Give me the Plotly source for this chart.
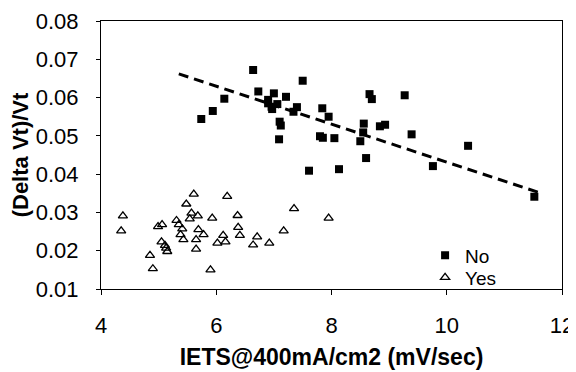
import plotly.graph_objects as go

# "No" series (filled squares)
no_x = [5.74, 5.94, 6.14, 6.64, 6.73, 6.90, 6.90, 6.96, 6.97, 7.00, 7.06, 7.21, 7.34, 7.40, 7.50,
        7.10, 7.12, 7.09, 7.61, 7.80, 7.85, 7.84, 7.95, 8.05, 8.13, 8.50, 8.55, 8.56, 8.60, 8.66,
        8.70, 8.84, 8.93, 9.27, 9.39, 9.76, 10.37, 11.52]
no_y = [0.0544, 0.0565, 0.0597, 0.0672, 0.0616, 0.0594, 0.0585, 0.0576, 0.0570, 0.0611, 0.0583,
        0.0602, 0.0563, 0.0575, 0.0644, 0.0537, 0.0527, 0.0491, 0.0409, 0.0499, 0.0495, 0.0572,
        0.0550, 0.0494, 0.0413, 0.0486, 0.0509, 0.0532, 0.0442, 0.0609, 0.0596, 0.0525, 0.0529,
        0.0606, 0.0504, 0.0421, 0.0474, 0.0341]

# "Yes" series (open triangles)
yes_x = [4.38, 4.35, 4.85, 4.90, 4.99, 5.06, 5.05, 5.11, 5.13, 5.15, 5.31, 5.35, 5.41, 5.38,
         5.43, 5.48, 5.61, 5.57, 5.54, 5.68, 5.69, 5.65, 5.65, 5.78, 5.93, 5.90, 6.02, 6.12,
         6.16, 6.19, 6.37, 6.38, 6.41, 6.64, 6.71, 6.92, 7.17, 7.35, 7.95]
yes_y = [0.0291, 0.0252, 0.0188, 0.0153, 0.0263, 0.0268, 0.0223, 0.0214, 0.0207, 0.0198, 0.0279,
         0.0268, 0.0257, 0.0242, 0.0229, 0.0322, 0.0348, 0.0298, 0.0283, 0.0291, 0.0255, 0.0229,
         0.0204, 0.0242, 0.0285, 0.0150, 0.0220, 0.0240, 0.0223, 0.0342, 0.0292, 0.0261, 0.0240,
         0.0215, 0.0236, 0.0220, 0.0252, 0.0310, 0.0285]

# Linear trend line for "No"
trend_x = [5.35, 11.6]
trend_y = [0.0662, 0.0352]

x_ticks = [4, 6, 8, 10, 12]
y_ticks = [0.01, 0.02, 0.03, 0.04, 0.05, 0.06, 0.07, 0.08]

FONT = "Liberation Sans, Arial, sans-serif"

fig = go.Figure()
fig.add_trace(go.Scatter(x=trend_x, y=trend_y, mode="lines", showlegend=False,
                         line=dict(color="black", width=3, dash="10px,6px")))
fig.add_trace(go.Scatter(x=no_x, y=no_y, mode="markers", name="No", legend="legend",
                         marker=dict(symbol="square", size=8, color="black")))
fig.add_trace(go.Scatter(x=yes_x, y=yes_y, mode="markers", name="Yes", legend="legend2",
                         marker=dict(symbol="triangle-up-open", size=8, color="black",
                                     line=dict(width=1.3, color="black"))))

leg_common = dict(xanchor="left", yanchor="middle", bgcolor="rgba(255,255,255,0)",
                  borderwidth=0, font=dict(size=19))

# page body adds an 8px offset, so the figure is sized to fit inside the window
fig.update_layout(
    width=568, height=364,
    margin=dict(l=93, r=14, t=13, b=83, autoexpand=False),
    paper_bgcolor="white", plot_bgcolor="white",
    font=dict(family=FONT, size=22, color="black"),
    legend=dict(x=0.703, y=0.125, **leg_common),
    legend2=dict(x=0.703, y=0.043, **leg_common),
)
fig.update_xaxes(range=[4, 12], tickvals=x_ticks, ticks="outside", ticklen=5,
                 tickcolor="black", showgrid=False, zeroline=False, automargin=False,
                 showline=True, linecolor="black", linewidth=1.2, mirror=True,
                 ticklabelstandoff=11,
                 title=dict(text="<b>IETS@400mA/cm2 (mV/sec)</b>", standoff=12,
                            font=dict(size=23)))
fig.update_yaxes(range=[0.01, 0.08], tickvals=y_ticks, tickformat=".2f", ticks="outside",
                 ticklen=4, tickcolor="black", showgrid=False, zeroline=False, automargin=False,
                 showline=True, linecolor="black", linewidth=1.2, mirror=True,
                 ticklabelstandoff=13,
                 title=dict(text="<b>(Delta Vt)/Vt</b>", standoff=4, font=dict(size=22)))

fig.write_html("out.html")
